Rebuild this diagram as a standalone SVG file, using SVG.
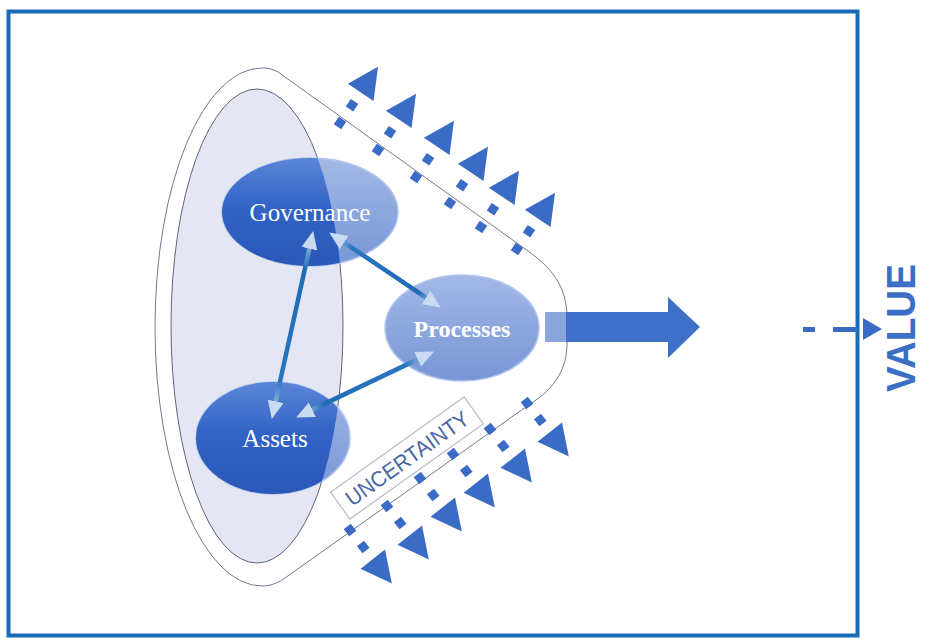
<svg xmlns="http://www.w3.org/2000/svg" xmlns:xlink="http://www.w3.org/1999/xlink" width="925" height="639" viewBox="0 0 925 639">
<style>
.lbl{font-family:"Liberation Serif","Times New Roman",serif;fill:#ffffff;text-anchor:middle}
.ua{fill:#3a6cc6}
.node-edge{stroke:#b3c5ec;stroke-width:1.5}
.conn{fill:none;stroke-width:4.5}
</style>
<defs>
<linearGradient id="darkGrad" x1="0" y1="0" x2="0" y2="1">
<stop offset="0" stop-color="#5a86d8"/>
<stop offset="0.45" stop-color="#3263c5"/>
<stop offset="1" stop-color="#2a57b8"/>
</linearGradient>
<linearGradient id="lightGrad" x1="0" y1="0" x2="0" y2="1">
<stop offset="0" stop-color="#a2b8e6"/>
<stop offset="1" stop-color="#7896d6"/>
</linearGradient>
<clipPath id="innerClip"><ellipse cx="257" cy="326" rx="86" ry="237"/></clipPath>
<marker id="ah" viewBox="0 0 18 16" refX="11" refY="8" markerWidth="18" markerHeight="16" markerUnits="userSpaceOnUse" orient="auto-start-reverse">
<path d="M0,0 L18,8 L0,16 Z" fill="#c9dbf1"/>
</marker>
<linearGradient id="g1" gradientUnits="userSpaceOnUse" x1="272" y1="418" x2="313" y2="232">
<stop offset="0" stop-color="#c9dbf1"/><stop offset="0.2" stop-color="#2a75bf"/><stop offset="0.8" stop-color="#1e6bb6"/><stop offset="1" stop-color="#c9dbf1"/>
</linearGradient>
<linearGradient id="g2" gradientUnits="userSpaceOnUse" x1="330" y1="233" x2="440" y2="307">
<stop offset="0" stop-color="#c9dbf1"/><stop offset="0.2" stop-color="#2a75bf"/><stop offset="0.8" stop-color="#1e6bb6"/><stop offset="1" stop-color="#c9dbf1"/>
</linearGradient>
<linearGradient id="g3" gradientUnits="userSpaceOnUse" x1="433" y1="352" x2="297" y2="417">
<stop offset="0" stop-color="#c9dbf1"/><stop offset="0.2" stop-color="#2a75bf"/><stop offset="0.8" stop-color="#1e6bb6"/><stop offset="1" stop-color="#c9dbf1"/>
</linearGradient>
<g id="ua">
<rect x="-4.5" y="-4.5" width="9" height="9"/>
<rect x="17" y="-4.5" width="9" height="9"/>
<polygon points="37,-15.5 68,0 37,15.5"/>
</g>
</defs>

<rect width="925" height="639" fill="#ffffff"/>

<g id="frame">
<rect x="8.5" y="11.5" width="849" height="624" fill="none" stroke="#1a6bb5" stroke-width="4"/>
</g>

<g id="capsule">
<path d="M262,68 C268,68 273,69 278,72 L528,251 C555,270 567,290 567,318 L567,343 C567,368 556,388 530,404 L285,578 C279,582 272,586 262,586 A107 259 0 0 1 262 68 Z" fill="none" stroke="#6f7a90" stroke-width="1"/>
<ellipse cx="257" cy="326" rx="86" ry="237" fill="#e4e7f3" stroke="#5a6680" stroke-width="1"/>
</g>

<g id="uncertainty-arrows" class="ua">
<use href="#ua" transform="translate(340,123) rotate(-56)"/>
<use href="#ua" transform="translate(378,150) rotate(-56)"/>
<use href="#ua" transform="translate(416,177) rotate(-56)"/>
<use href="#ua" transform="translate(450,203) rotate(-56)"/>
<use href="#ua" transform="translate(481,227) rotate(-56)"/>
<use href="#ua" transform="translate(517,249) rotate(-56)"/>
<use href="#ua" transform="translate(350,530) rotate(52)"/>
<use href="#ua" transform="translate(387,506) rotate(52)"/>
<use href="#ua" transform="translate(420,478) rotate(52)"/>
<use href="#ua" transform="translate(453,454) rotate(52)"/>
<use href="#ua" transform="translate(490,429) rotate(52)"/>
<use href="#ua" transform="translate(527,403) rotate(52)"/>
</g>

<g id="uncertainty-label" transform="translate(407,458) rotate(-35.5)">
<rect x="-82" y="-16.5" width="164" height="33" fill="none" stroke="#b4bccb" stroke-width="1.2"/>
<text x="0" y="8" font-family="Liberation Sans, Arial, sans-serif" font-size="22" fill="#4b67a3" text-anchor="middle" textLength="146" lengthAdjust="spacingAndGlyphs">UNCERTAINTY</text>
</g>

<g id="node-governance">
<ellipse cx="310" cy="212" rx="88" ry="54" fill="url(#lightGrad)" class="node-edge"/>
<ellipse cx="310" cy="212" rx="88" ry="54" fill="url(#darkGrad)" clip-path="url(#innerClip)"/>
<text x="310" y="221" class="lbl" font-size="25">Governance</text>
</g>

<g id="node-assets">
<ellipse cx="273" cy="438" rx="77" ry="56" fill="url(#lightGrad)" class="node-edge"/>
<ellipse cx="273" cy="438" rx="77" ry="56" fill="url(#darkGrad)" clip-path="url(#innerClip)"/>
<text x="275" y="447" class="lbl" font-size="25">Assets</text>
</g>

<g id="node-processes">
<ellipse cx="462" cy="328" rx="77" ry="53" fill="url(#lightGrad)" class="node-edge"/>
<text x="462" y="337" class="lbl" font-size="24" font-weight="bold">Processes</text>
</g>

<g id="connectors">
<line x1="273.3" y1="412.1" x2="311.7" y2="237.9" class="conn" stroke="url(#g1)" marker-start="url(#ah)" marker-end="url(#ah)"/>
<line x1="335" y1="236.3" x2="435" y2="303.7" class="conn" stroke="url(#g2)" marker-start="url(#ah)" marker-end="url(#ah)"/>
<line x1="427.6" y1="354.6" x2="302.4" y2="414.4" class="conn" stroke="url(#g3)" marker-start="url(#ah)" marker-end="url(#ah)"/>
</g>

<g id="output-arrow">
<polygon points="545,312 668,312 668,297 700,327 668,358 668,342 545,342" fill="#3f6fc8"/>
<rect x="545" y="312" width="21" height="30" fill="#ffffff" opacity="0.38"/>
</g>

<g id="value">
<rect x="803" y="327" width="12" height="5" fill="#3a6cc6"/>
<rect x="833" y="327" width="24" height="5" fill="#3a6cc6"/>
<polygon points="863,318 882,329 863,340" fill="#3a6cc6"/>
<text transform="translate(915,328) rotate(-90)" x="0" y="0" font-family="Liberation Sans, Arial, sans-serif" font-weight="bold" font-size="40" fill="#3b6fc4" text-anchor="middle" textLength="128" lengthAdjust="spacingAndGlyphs">VALUE</text>
</g>
</svg>
